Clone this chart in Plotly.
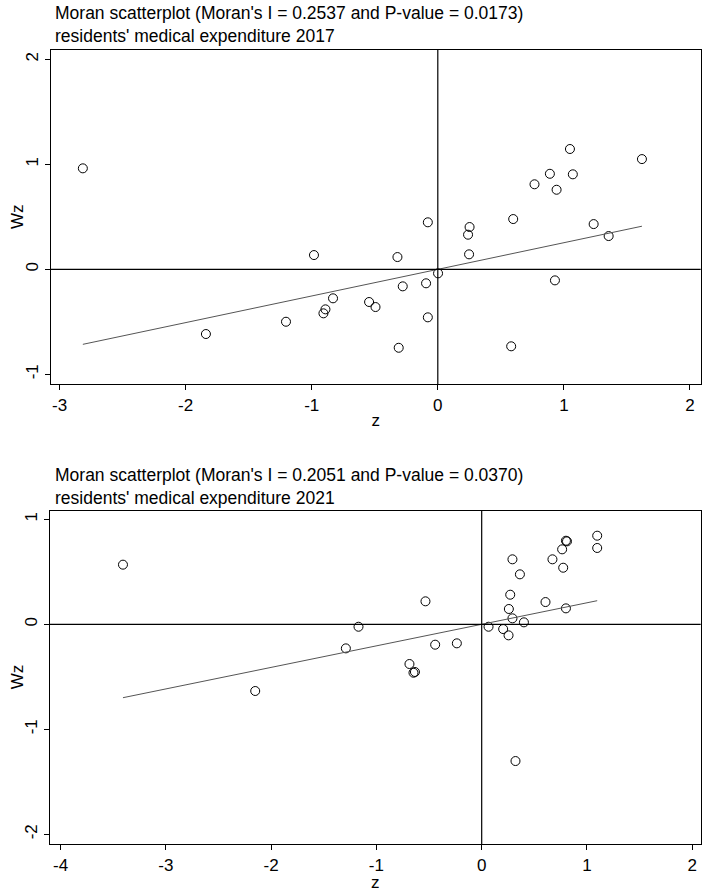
import plotly.graph_objects as go

W, H = 709, 892

# ---- data ----
z_2017 = [-2.815, -1.839, -1.204, -0.982, -0.907, -0.891, -0.831, -0.545, -0.494,
          -0.320, -0.310, -0.278, -0.093, -0.079, -0.079, 0.002, 0.240, 0.248,
          0.252, 0.582, 0.598, 0.767, 0.889, 0.929, 0.942, 1.048, 1.071, 1.236,
          1.355, 1.619]
wz_2017 = [0.962, -0.616, -0.499, 0.136, -0.419, -0.381, -0.276, -0.311, -0.359,
           0.117, -0.747, -0.162, -0.133, 0.448, -0.457, -0.038, 0.330, 0.143,
           0.403, -0.733, 0.479, 0.810, 0.910, -0.105, 0.758, 1.146, 0.905, 0.431,
           0.317, 1.050]
moran_i_2017 = 0.2537
p_value_2017 = 0.0173

z_2021 = [-3.407, -2.151, -1.290, -1.170, -0.686, -0.648, -0.634, -0.534, -0.442,
          -0.236, 0.065, 0.204, 0.255, 0.258, 0.271, 0.292, 0.292, 0.321, 0.363,
          0.401, 0.606, 0.672, 0.764, 0.774, 0.800, 0.810, 0.800, 1.097, 1.097]
wz_2021 = [0.568, -0.635, -0.229, -0.023, -0.378, -0.461, -0.454, 0.219, -0.194,
           -0.181, -0.023, -0.045, -0.105, 0.146, 0.282, 0.619, 0.057, -1.302, 0.476,
           0.019, 0.212, 0.619, 0.714, 0.539, 0.796, 0.790, 0.152, 0.844, 0.727]
moran_i_2021 = 0.2051
p_value_2021 = 0.0370

x_ticks_2017 = [-3, -2, -1, 0, 1, 2]
y_ticks_2017 = [-1, 0, 1, 2]
x_ticks_2021 = [-4, -3, -2, -1, 0, 1, 2]
y_ticks_2021 = [-2, -1, 0, 1]

variable_name = "residents' medical expenditure"

FONT = "Liberation Sans, Arial, sans-serif"
FS = 17

fig = go.Figure()

panels = [
    ("x", "y", z_2017, wz_2017, moran_i_2017, p_value_2017, 2017),
    ("x2", "y2", z_2021, wz_2021, moran_i_2021, p_value_2021, 2021),
]
for xa, ya, zz, ww, mi, pv, yr in panels:
    fig.add_trace(go.Scatter(
        x=zz, y=ww, mode="markers", xaxis=xa, yaxis=ya,
        marker=dict(symbol="circle-open", size=9, color="black",
                    line=dict(width=1, color="black")),
        showlegend=False, hoverinfo="x+y"))
    x0, x1 = min(zz), max(zz)
    fig.add_trace(go.Scatter(
        x=[x0, x1], y=[mi * x0, mi * x1], mode="lines", xaxis=xa, yaxis=ya,
        line=dict(color="#555555", width=1), showlegend=False, hoverinfo="skip"))
    # reference lines at zero
    fig.add_shape(type="line", xref=f"{xa} domain", yref=ya, x0=0, x1=1, y0=0, y1=0,
                  line=dict(color="black", width=1.2))
    fig.add_shape(type="line", xref=xa, yref=f"{ya} domain", x0=0, x1=0, y0=0, y1=1,
                  line=dict(color="black", width=1.2))

axis_common = dict(showline=True, mirror=True, linecolor="black", linewidth=1.2,
                   ticks="outside", ticklen=5, tickcolor="black", tickwidth=1,
                   showgrid=False, zeroline=False,
                   tickfont=dict(family=FONT, size=FS, color="black"))


def labels(vals):
    return [str(v) for v in vals]  # plain hyphen-minus, as in the reference


def px_x(p):
    return p / W


def px_y(p):
    return 1 - p / H


fig.update_layout(
    width=W, height=H,
    margin=dict(l=0, r=0, t=0, b=0),
    paper_bgcolor="white", plot_bgcolor="white",
    font=dict(family=FONT, size=FS, color="black"),
    xaxis=dict(domain=[px_x(50.7), px_x(700.7)], range=[-3.07, 2.085],
               tickvals=x_ticks_2017, ticktext=labels(x_ticks_2017), anchor="y",
               title=dict(text="z", font=dict(size=FS), standoff=0), **axis_common),
    yaxis=dict(domain=[px_y(384), px_y(50)], range=[-1.092, 2.089],
               tickvals=y_ticks_2017, ticktext=labels(y_ticks_2017), anchor="x",
               tickangle=-90, **axis_common),
    xaxis2=dict(domain=[px_x(50.0), px_x(700.7)], range=[-4.10, 2.08],
                tickvals=x_ticks_2021, ticktext=labels(x_ticks_2021), anchor="y2",
                title=dict(text="z", font=dict(size=FS), standoff=0), **axis_common),
    yaxis2=dict(domain=[px_y(844), px_y(510.7)], range=[-2.092, 1.082],
                tickvals=y_ticks_2021, ticktext=labels(y_ticks_2021), anchor="x2",
                tickangle=-90, **axis_common),
)

# y-axis titles ("Wz"), placed as in the reference
for ya in ("y", "y2"):
    fig.add_annotation(text="Wz", xref="paper", yref=f"{ya} domain",
                       x=px_x(17), y=0.5, textangle=-90, showarrow=False,
                       xanchor="center", yanchor="middle",
                       font=dict(family=FONT, size=FS, color="black"))

title_rows = [
    (13, f"Moran scatterplot (Moran's I = {moran_i_2017:.4f} and P-value = {p_value_2017:.4f})"),
    (36, f"{variable_name} 2017"),
    (475, f"Moran scatterplot (Moran's I = {moran_i_2021:.4f} and P-value = {p_value_2021:.4f})"),
    (498, f"{variable_name} 2021"),
]
for ypx, txt in title_rows:
    fig.add_annotation(text=txt, xref="paper", yref="paper", x=px_x(53), y=px_y(ypx),
                       xanchor="left", yanchor="middle", showarrow=False,
                       font=dict(family=FONT, size=17.5, color="black"))

fig.write_html("out.html")
